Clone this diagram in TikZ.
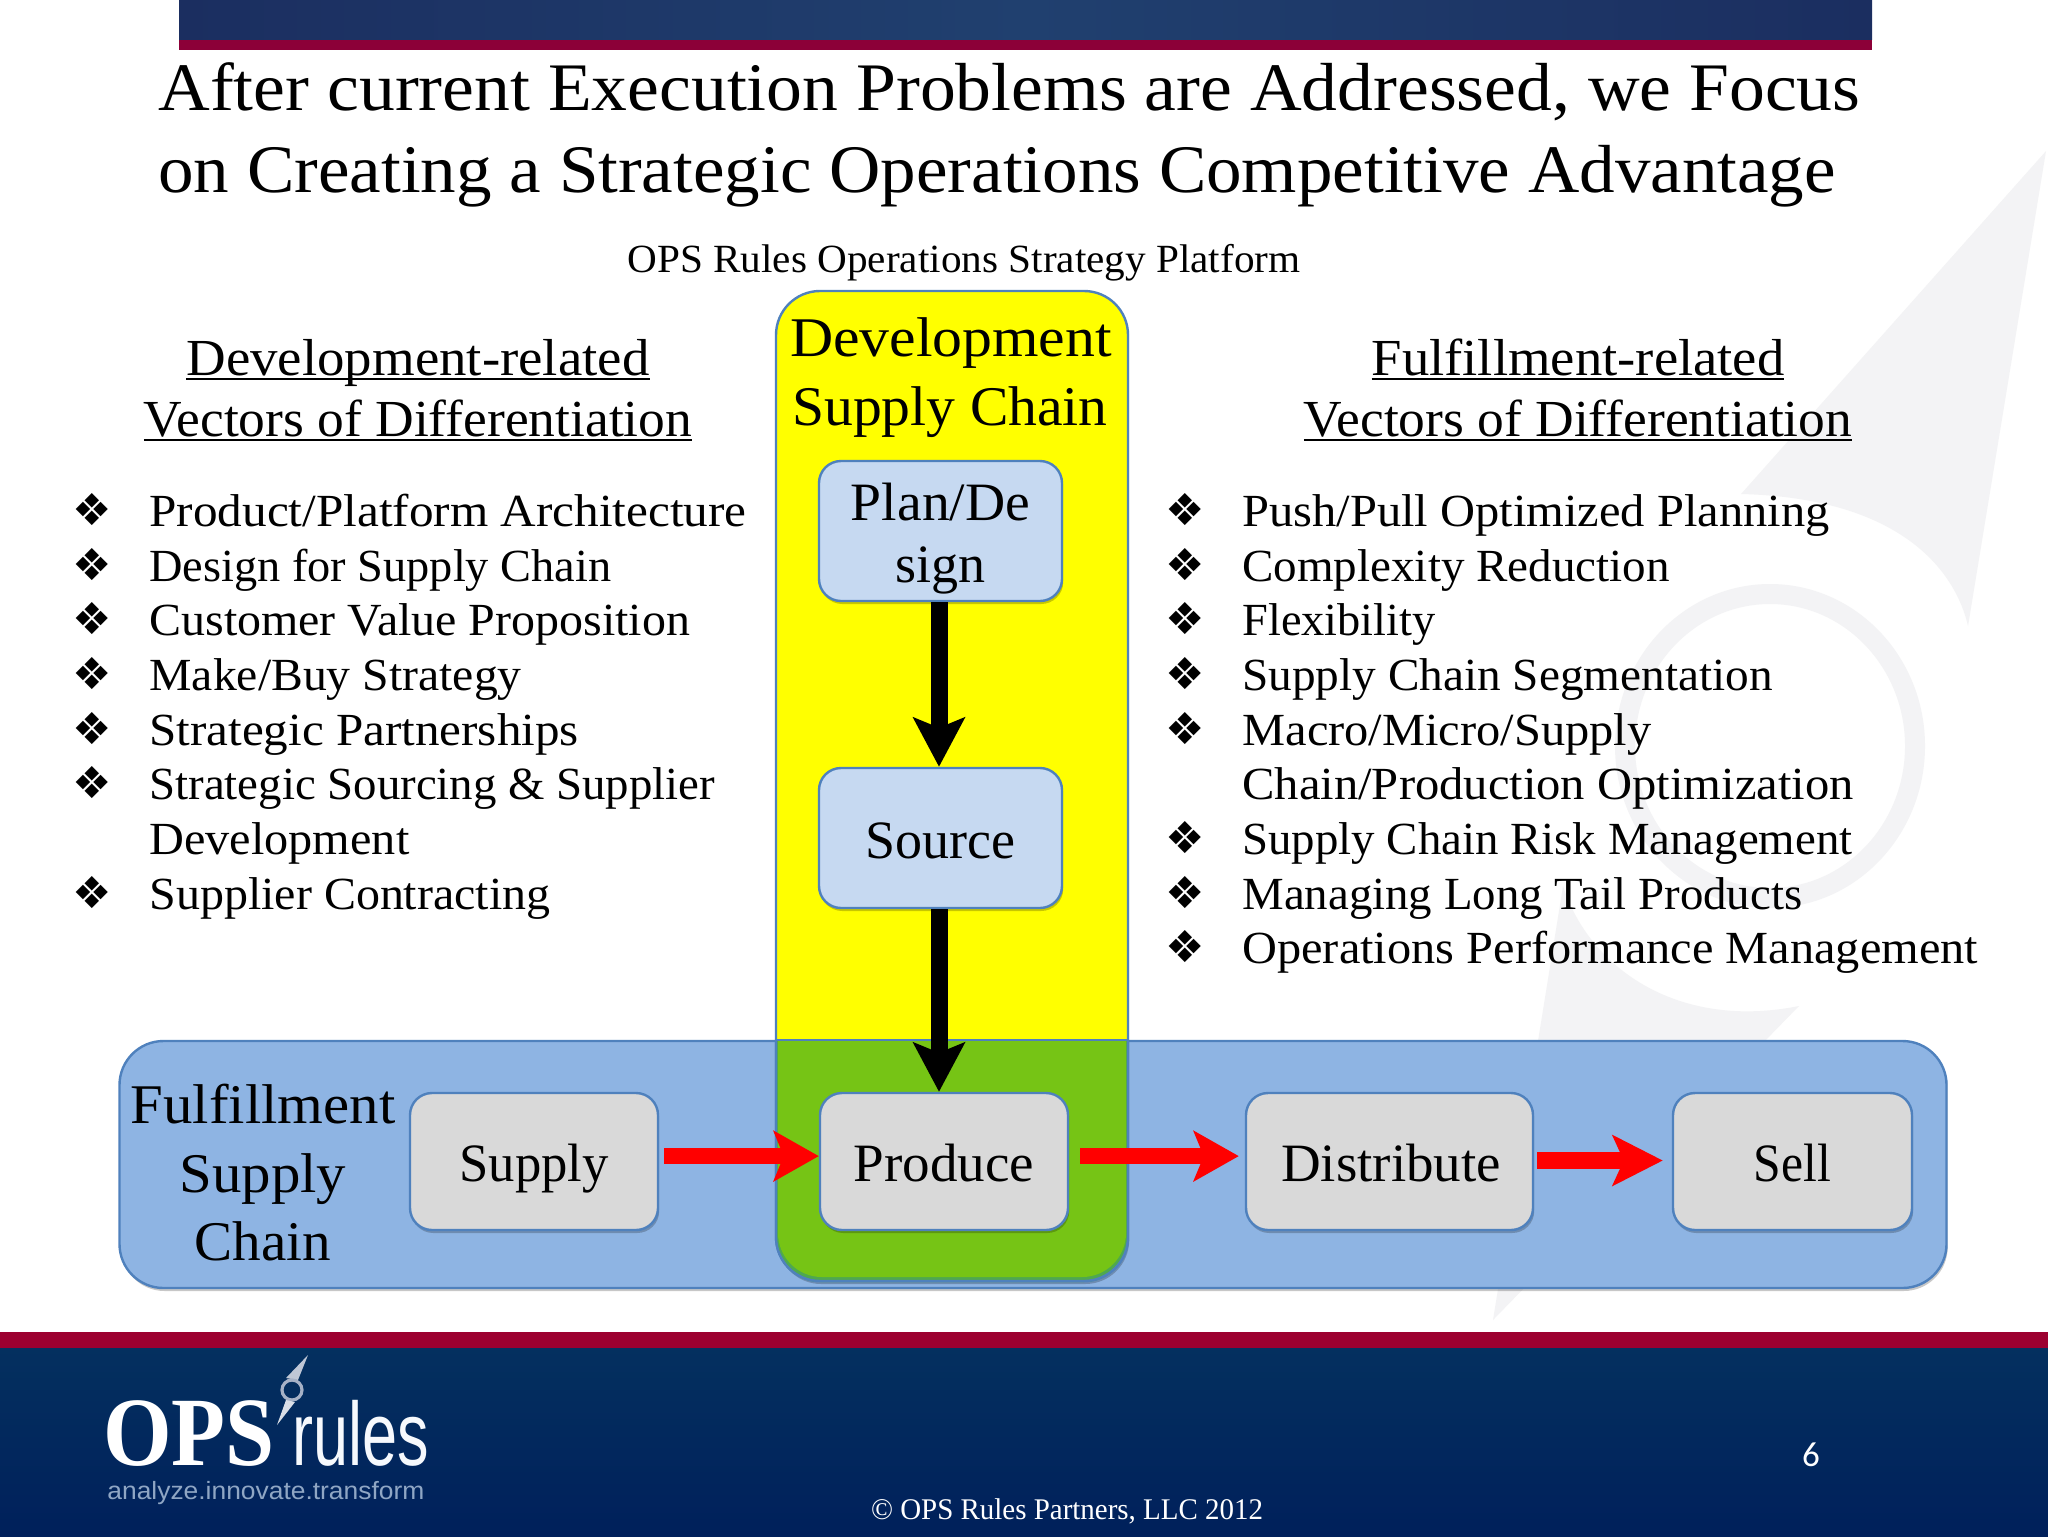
\documentclass[tikz,border=0pt]{standalone}
\usepackage{fontspec}
\setmainfont{Liberation Serif}
\newfontfamily\dejavu{DejaVu Sans}
\newfontfamily\carlito{Carlito}
\newfontfamily\logosans{Liberation Sans}
\usetikzlibrary{arrows.meta,shadows,backgrounds}
\newcommand\ulin[1]{\setbox0\hbox{#1}\rlap{\rule[-2.6pt]{\wd0}{1.2pt}}\box0}
\definecolor{navytop}{HTML}{04305F}
\definecolor{navybot}{HTML}{00205B}
\definecolor{bandl}{HTML}{1B2E60}
\definecolor{bandm}{HTML}{20406F}
\definecolor{bandred}{HTML}{9C0030}
\definecolor{topred}{HTML}{8C0038}
\definecolor{edgeblue}{HTML}{4F81BD}
\definecolor{fillblue}{HTML}{8EB4E3}
\definecolor{paleblue}{HTML}{C6D9F1}
\definecolor{boxgrey}{HTML}{D9D9D9}
\definecolor{overlap}{HTML}{76C415}
\definecolor{overlapdk}{HTML}{4FA84F}
\definecolor{wmark}{HTML}{F3F3F5}
\definecolor{pureyellow}{HTML}{FFFF00}
\definecolor{purered}{HTML}{FF0000}
\definecolor{tagblue}{HTML}{8FA6C4}
\tikzset{
  x=0.5pt,y=-0.5pt,
  softshadow/.style={drop shadow={shadow xshift=0.6pt,shadow yshift=-1.5pt,opacity=0.22,fill=black}},
  boxbase/.style={draw=edgeblue,line width=1.2pt,rounded corners=11pt,softshadow,inner sep=0pt,
     font=\fontsize{27}{31}\selectfont,align=center},
  greybox/.style={boxbase,fill=boxgrey,text height=19.5pt,text depth=0pt},
  plainbox/.style={boxbase,fill=paleblue,text height=20pt,text depth=0pt},
  big/.style={font=\fontsize{28}{31}\selectfont,inner sep=0pt,anchor=base,transform shape},
  head/.style={font=\fontsize{26}{26}\selectfont,inner sep=0pt,anchor=base,transform shape},
  item/.style={font=\fontsize{23}{23}\selectfont,inner sep=0pt,anchor=base west,transform shape},
  bul/.style={font=\dejavu\fontsize{22}{22}\selectfont,inner sep=0pt,anchor=center},
  ttl/.style={font=\fontsize{34}{34}\selectfont,inner sep=0pt,anchor=base west,transform shape},
  blackarrow/.style={line width=8.5pt,-{Stealth[length=24.5pt,width=25.5pt,inset=5pt]}},
  redarrow/.style={purered,line width=8pt,-{Stealth[length=22.5pt,width=25pt,inset=5pt]}},
  redlong/.style={purered,line width=8.5pt,-{Stealth[length=25pt,width=25pt,inset=5.5pt]}},
}
\begin{document}
\begin{tikzpicture}
\useasboundingbox (0,0) rectangle (2048,1536);
\fill[white] (0,0) rectangle (2048,1536);
% watermark
\fill[wmark] (2046,151) -- (1968,626) .. controls (1955,570) and (1900,498) .. (1741,494) -- cycle;
\draw[wmark,line width=10pt] (1770,746) ellipse (145 and 152);
\fill[wmark] (1563,886) .. controls (1590,970) and (1680,1030) .. (1799,1006) -- (1493,1320) -- cycle;
% top band
\shade[left color=bandl,right color=bandl,middle color=bandm] (179,0) rectangle (1872,40);
\fill[topred] (179,40) rectangle (1872,50);
% footer
\fill[bandred] (0,1332) rectangle (2048,1348);
\shade[top color=navytop,bottom color=navybot] (0,1348) rectangle (2048,1536);
% title
\node[ttl,xscale=1.053] (t1) at (158,111) {After current Execution Problems are Addressed, we Focus};
\node[ttl,xscale=1.045] (t2) at (158,192) {on Creating a Strategic Operations Competitive Advantage};
\node[font=\fontsize{20}{20}\selectfont,inner sep=0pt,anchor=base,xscale=1.03,transform shape] (sub) at (964,272) {OPS Rules Operations Strategy Platform};
% headings
\node[head,xscale=1.055] (lh1) at (418,375) {\ulin{Development-related}};
\node[head,xscale=1.028] (lh2) at (418,436) {\ulin{Vectors of Differentiation}};
\node[head,xscale=1.051] (rh1) at (1578,375) {\ulin{Fulfillment-related}};
\node[head,xscale=1.028] (rh2) at (1578,436) {\ulin{Vectors of Differentiation}};
% left list
\node[bul] (lb1) at (92,510) {❖};
\node[bul] (lb2) at (92,565) {❖};
\node[bul] (lb3) at (92,619) {❖};
\node[bul] (lb4) at (92,674) {❖};
\node[bul] (lb5) at (92,729) {❖};
\node[bul] (lb6) at (92,783) {❖};
\node[bul] (lb7) at (92,893) {❖};
\node[item,xscale=1.07] (l1) at (149,526) {Product/Platform Architecture};
\node[item,xscale=1.007] (l2) at (149,581) {Design for Supply Chain};
\node[item,xscale=1.042] (l3) at (149,635) {Customer Value Proposition};
\node[item,xscale=1.037] (l4) at (149,690) {Make/Buy Strategy};
\node[item,xscale=1.067] (l5) at (149,745) {Strategic Partnerships};
\node[item,xscale=1.018] (l6) at (149,799) {Strategic Sourcing \& Supplier};
\node[item,xscale=1.049] (l6b) at (149,854) {Development};
\node[item,xscale=1.043] (l7) at (149,909) {Supplier Contracting};
% right list
\node[bul] (rb1) at (1185,510) {❖};
\node[bul] (rb2) at (1185,565) {❖};
\node[bul] (rb3) at (1185,619) {❖};
\node[bul] (rb4) at (1185,674) {❖};
\node[bul] (rb5) at (1185,729) {❖};
\node[bul] (rb6) at (1185,838) {❖};
\node[bul] (rb7) at (1185,893) {❖};
\node[bul] (rb8) at (1185,947) {❖};
\node[item,xscale=1.054] (r1) at (1242,526) {Push/Pull Optimized Planning};
\node[item,xscale=1.023] (r2) at (1242,581) {Complexity Reduction};
\node[item,xscale=1.008] (r3) at (1242,635) {Flexibility};
\node[item,xscale=1.027] (r4) at (1242,690) {Supply Chain Segmentation};
\node[item,xscale=1.053] (r5) at (1242,745) {Macro/Micro/Supply};
\node[item,xscale=1.056] (r5b) at (1242,799) {Chain/Production Optimization};
\node[item,xscale=1.018] (r6) at (1242,854) {Supply Chain Risk Management};
\node[item,xscale=1.018] (r7) at (1242,909) {Managing Long Tail Products};
\node[item,xscale=1.051] (r8) at (1242,963) {Operations Performance Management};
% containers
\node[draw=edgeblue,fill=fillblue,line width=1.2pt,rounded corners=22pt,minimum width=913.5pt,minimum height=123.5pt,softshadow] (fsc) at (1033,1164.5) {};
\node[draw=edgeblue,fill=pureyellow,line width=1.2pt,rounded corners=22pt,minimum width=176pt,minimum height=495pt,softshadow] (dsc) at (952,786) {};
\begin{scope}
  \clip (770,1041) rectangle (1134,1290);
  \fill[overlapdk,rounded corners=22pt] (776,800) rectangle (1128,1282);
  \fill[overlap,rounded corners=22pt] (778,800) rectangle (1126,1277);
\end{scope}
\draw[edgeblue,line width=1.2pt] (fsc.north -| dsc.west) -- (fsc.north -| dsc.east);
\draw[edgeblue,line width=1.2pt,rounded corners=22pt] (776,1041) -- (776,1281) -- (1128,1281) -- (1128,1041);
% container labels
\node[big,xscale=1.067] (d1) at (951,356) {Development};
\node[big,xscale=1.029] (d2) at (950,425) {Supply Chain};
\node[big,xscale=1.05] (f1) at (263,1123) {Fulfillment};
\node[big,xscale=1.05] (f2) at (263,1192) {Supply};
\node[big,xscale=1.02] (f3) at (263,1260) {Chain};
% boxes
\node[plainbox,minimum width=121.5pt,minimum height=70pt,text height=51pt] (plan) at (940.5,531) {\scalebox{1.03}[1]{Plan/De}\\[0pt]sign};
\node[plainbox,minimum width=121.5pt,minimum height=70pt] (source) at (940.5,838) {Source};
\node[greybox,minimum width=124pt,minimum height=68.5pt] (supply) at (534,1161.5) {\scalebox{0.975}[1]{Supply}};
\node[greybox,minimum width=124pt,minimum height=68.5pt] (produce) at (944,1161.5) {\scalebox{1.02}[1]{Produce}};
\node[greybox,minimum width=143.5pt,minimum height=68.5pt] (distribute) at (1389.5,1161.5) {\hspace*{1.5pt}\scalebox{1.018}[1]{Distribute}};
\node[greybox,minimum width=119.5pt,minimum height=68.5pt] (sell) at (1792.5,1161.5) {\scalebox{0.92}[1]{Sell}};
% connectors
\draw[blackarrow] (plan.south -| 939,0) -- (source.north -| 939,0);
\draw[blackarrow] (source.south -| 939,0) -- (produce.north -| 939,0);
\draw[redarrow] ([xshift=2.5pt,yshift=2.7pt]supply.east) -- ([xshift=0pt,yshift=2.7pt]produce.west);
\draw[redarrow] ([xshift=5.5pt,yshift=2.7pt]produce.east) -- ([xshift=-3pt,yshift=2.7pt]distribute.west);
\draw[redlong] ([xshift=1.5pt,yshift=0.5pt]distribute.east) -- ([xshift=-4.5pt,yshift=0.5pt]sell.west);
% footer text
\node[font=\carlito\fontsize{17.5}{17.5}\selectfont,text=white,inner sep=0pt] (pg) at (1811,1455) {6};
\node[font=\fontsize{15}{15}\selectfont,text=white,inner sep=0pt,anchor=base,xscale=0.965,transform shape] (cr) at (1067,1519) {© OPS Rules Partners, LLC 2012};
% logo
\fill[white!75!navybot] (308,1355) -- (298,1380) -- (286,1378) -- cycle;
\draw[white!65!navybot,line width=1.6pt] (292,1390) circle (10);
\fill[white!85!navybot] (277,1425) -- (286,1400) -- (295,1402) -- cycle;
\node[font=\bfseries\fontsize{49}{49}\selectfont,text=white,inner sep=0pt,anchor=base west,xscale=0.9,transform shape] (logo1) at (103,1465) {OPS};
\node[font=\logosans\fontsize{45}{45}\selectfont,text=white!85!paleblue,inner sep=0pt,anchor=base west,xscale=0.70,transform shape] (logo2) at (292,1465) {rules};
\node[font=\logosans\fontsize{12.5}{12.5}\selectfont,text=tagblue,inner sep=0pt,anchor=base west,xscale=1.056,transform shape] (logo3) at (107,1499) {analyze.innovate.transform};
\end{tikzpicture}
\end{document}
